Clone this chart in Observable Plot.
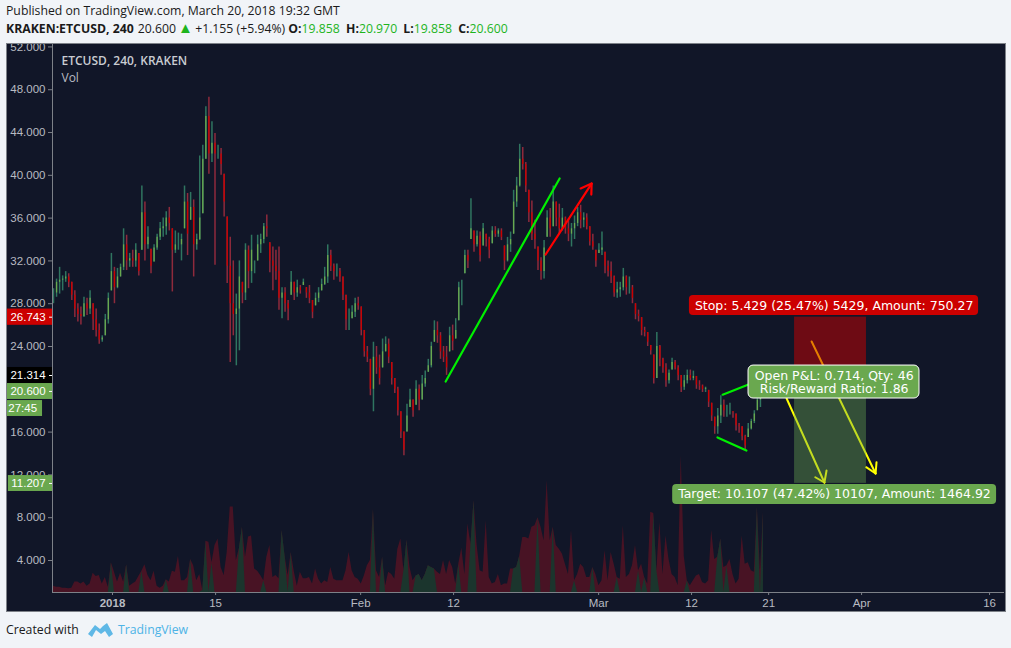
<!DOCTYPE html>
<html><head><meta charset="utf-8">
<script src="https://cdn.jsdelivr.net/npm/d3@7"></script>
<script src="https://cdn.jsdelivr.net/npm/@observablehq/plot@0.6"></script>
<style>
html,body{margin:0;padding:0;width:1011px;height:648px;overflow:hidden;background:#f1f4f8;font-family:"Open Sans","Noto Sans",sans-serif;color:#1a1a1a}
#h1{position:absolute;left:6px;top:1px;font-size:12.25px;line-height:20px;white-space:nowrap}
#h2{position:absolute;left:6px;top:19px;font-size:12.25px;line-height:20px;white-space:nowrap}
#h2 b{font-weight:700}.g{color:#1eb41e}
#h2 span.s{margin-left:4px}
#h2 span.t{font-size:15px;line-height:14px;margin:0 -1px}
#h2 b.m{margin-left:3px}
#chart{position:absolute;left:6px;top:43px;width:1000px;height:569px}
#chart svg{display:block;outline:1px solid #7d8188;outline-offset:-1px}
#foot{position:absolute;left:6px;top:620px;font-size:12.25px;line-height:20px;white-space:nowrap}
#foot svg{position:absolute;left:82px;top:1px}
#foot a{position:absolute;left:112px;top:0;color:#4db3e6;text-decoration:none}
</style></head><body>
<div id="h1">Published on TradingView.com, March 20, 2018 19:32 GMT</div>
<div id="h2"><b>KRAKEN:ETCUSD, 240</b><span class="s">20.600</span> <span class="g t">&#9650;</span> +1.155 (+5.94%) <b>O:</b><span class="g">19.858</span> <b class="m">H:</b><span class="g">20.970</span> <b class="m">L:</b><span class="g">19.858</span> <b class="m">C:</b><span class="g">20.600</span></div>
<div id="chart"></div>
<div id="foot">Created with
<svg width="26" height="18" viewBox="0 0 26 18"><path d="M0 13 L7 4 L12 8 L15 5 L19 2 L25 13 L21 16 L17 10 L13 13 L8 9 L4 16 Z" fill="#5fb8e6"/></svg>
<a>TradingView</a></div>
<script>
const high = [
29.4,30.3,31.4,30.6,31,30.8,30,29.2,28,27.7,28.6,28.5,29.2,28,27.5,26.1,25,27,29,32.7,
31.4,31.3,31.7,35,34.4,32.7,33,33.6,32.7,39,37.5,35.2,33.1,33.5,34.5,35.6,36,36.6,37,35,
34.8,34.6,34.5,39,38.3,38.4,37.7,34.5,41.8,42.8,46.4,47.3,45,43.9,42.8,42.5,40.1,36.1,34.2,32,
28.9,32,30,33.6,33.4,34.4,32,34.4,34.5,35.5,36.3,33.7,33.3,33,33.3,29.5,29.5,28.3,31,
30,30.2,29.7,30.3,29.5,29.7,28.3,29,29.5,30.3,31.4,33.5,33,31.7,31.7,31.3,30.5,
28.8,27.5,27.8,28.5,28.6,27.7,25.5,24,22.8,24.4,24,23.2,24.7,24.9,24.7,22.5,21,20.2,17.9,
16,18.6,20,19,20.8,20.4,21.3,21.7,22.8,24.4,26.4,26.3,25.3,24,24,25.8,26,26.6,30,
30.2,33,33,37.8,34.8,34.8,34.7,35.5,34.5,34.2,35.2,35.2,35,35,33.4,34.2,34.7,38.6,39.8,42.9,
42.6,41.2,38.6,37.6,35.8,33.3,32.3,33.9,36.7,36.9,39,37.5,37.3,36.9,36.1,35.9,35.5,36.2,37,37.2,
36.5,36.4,35.2,34.5,33,33.6,34.7,32.8,32,31.9,30.6,30,30,31.3,30.6,30.5,29.7,28,
27.4,26.7,25.8,25.3,24.1,23.2,25.3,24.1,22.9,22.4,21.8,22.9,22.7,22.2,21.3,21.3,21.8,21.8,21.7,21.2,
20.8,20.4,20.2,19.9,18.7,17.4,18.2,19.4,19,18.5,18.7,17.9,17.7,16.8,16.5,15.7,16.8,17.2,18,19.3,19.4,20.97];
const low = [
28,28.6,28.9,29.2,30,29.5,28.3,26.7,26.3,26,26.7,26.9,27,25.5,24.9,24.2,24.4,25,26.1,29.2,
28,29.4,30.5,31.1,31.1,31.4,31.4,31.4,30.6,33,32,33.1,30.8,31.9,33,33.9,34.2,34.4,34.8,29.1,
32.7,33,32,35,32.5,35.8,30.5,33,33.9,36.4,41.5,40.1,41.2,31.6,41.5,40,36.1,29.9,22.5,25,
22.2,23.6,28,28.3,29.4,29.9,30.8,32,32.7,33.6,34.2,30.9,29.2,30.2,27.4,26.6,27.2,26.4,28.8,
28.3,28.6,28.9,29.7,28.5,28,26.6,27.8,28.1,29.2,29.7,29.9,31,30.2,30.5,30,28.3,
25.5,25.5,26.6,26.7,27.4,25,23,22.5,19.4,17.9,21.4,20.4,22,23.5,22.4,20.4,19.6,17.5,15.4,
13.8,16,18.3,17.4,18.5,18,19,20.2,21.6,22,24.4,24.3,22.8,22.5,21.3,23.5,23.6,24.7,26.4,
27.8,30.8,31.3,34,32.8,33.3,31.9,33.4,33.3,32.2,33.6,34.2,34.2,33.9,31.1,31.9,32.8,34.5,37,38.9,
40.5,38.4,35.6,33.9,33.1,31.1,30.2,30.3,34.2,34.2,35.2,35.2,34.5,34.8,34.5,33.8,33.3,34,35.2,35,
35.1,34.9,33.4,33,31.4,32.7,32.5,30.8,30.5,29.9,28.6,28.5,28.6,29.2,28.8,28.9,28,26.5,
26.3,25,24.9,24,23.2,20.5,21,22.1,21.5,20.2,20.5,21.8,21.8,20.8,19.7,19.9,20.5,20.8,20.8,20,
19.9,19.7,19.7,18.3,17,15.8,15.8,16.8,17.4,17.4,17.6,17.3,16.1,15.9,15.2,14.3,15.5,16.2,16.8,18,18.3,19.858];
const close = [
29,30,30.2,30.3,30.5,30,28.8,27.5,27,26.8,28,27.5,28.5,26.5,25.5,24.6,24.8,26.5,28.5,31,
29.5,30.5,31.4,33.5,32,32.2,32,33,31,36.5,33.5,34.2,31.5,33.2,34.2,35,35.2,36,35.5,33,
33.5,33.5,34,37.5,34.5,37,33.5,34,36,41.5,45.5,42,43,42,42,41,37.5,31.5,28,27,
27.5,30.5,29,33,31,33,32,33.5,34,35.2,35,32,31.5,31,28.5,29,28,27.5,30,
29,29.5,29.2,30,29,28.5,27.2,28.5,29,29.8,30.5,32.5,31.5,31,31,30.5,28.8,
26.5,26.5,27.2,28,27.8,25.5,23.5,23,20,23,22,21,23.5,24.2,23,21,20,18,16,
14.3,17.5,19,18,20,19,20.5,21,22.2,24,25.5,25,23.5,23,22,25,24.5,25.5,29.5,
29.5,32.5,32,35,33.5,34.3,32.5,35,34,33,34.8,34.5,34.8,34.2,32,33.5,34,37.5,39,41.5,
41,39,36.5,34.5,34,32,31,33.2,36,35,37.5,36,35,36,35,34.5,35,35.5,36.5,35.8,
36,35.2,33.8,33.3,32,33,33.2,31.5,31,30.5,29,29.3,29.5,30.5,29.5,29.5,28.5,27,
26.8,25.5,25.3,24.4,23.6,21,24,22.8,22,20.8,21.5,22.5,22,21.3,20.2,20.8,21.3,21,21.2,20.4,
20.3,20,20.1,18.8,17.5,16.5,17.5,18.5,18,18,18,17.8,16.6,16.5,15.6,14.7,16.3,17,17.7,19,19.858,20.6];
const volume = [
1.6,1.5,1.5,1.4,1.4,1.35,1.4,2.0,2.0,1.8,2.0,1.6,1.8,2.8,2.5,2.6,1.8,2.4,1.5,3.8,2.9,2.0,2.8,2.0,3.6,1.6,1.8,2.0,2.5,3.0,3.6,2.6,2.1,3.0,1.6,1.4,1.6,2.2,2.0,3.0,2.9,4.4,2.1,2.1,2.4,4.1,3.5,2.1,2.7,1.2,5.8,5.7,3.8,5.4,6.0,3.35,2.6,4.75,9.0,9.0,4.0,5.1,7.1,4.3,6.2,6.3,3.2,3.0,2.6,2.1,4.3,5.4,2.4,2.6,2.3,6.8,4.4,2.6,4.75,3.0,1.6,2.9,2.3,2.3,2.4,1.8,
3.2,2.25,1.8,2.1,1.95,3.35,2.25,2.1,2.1,2.1,3.05,4.75,3.05,2.4,2.25,1.8,2.55,3.5,4,8.8,3.05,2.4,4.3,1.65,2.9,2.7,2.25,5.05,6,3.05,5.9,3.35,2.1,2.55,2.7,2.1,2.7,3.5,3.35,3.2,2.9,2.7,4,2.7,4,3.35,1.8,3.65,5.15,2.7,7.4,5.5,9.6,5.5,3.05,2.9,7.7,2.4,1.8,1.95,2.7,1.65,1.8,1.8,3.2,3.2,3.35,4.4,6.15,6.15,6,7.1,7.25,8,7.1,5.85,11.45,5.85,7.1,5.4,5.05,4.6,3.65,2.7,6.8,2.1,2.7,3.65,3.35,2.4,2.4,3.35,2.7,1.65,2.1,4.9,2.1,4.75,3.65,2.4,2.25,7.25,2.4,2.7,3.5,5.4,3.05,3.65,2.4,1.8,8.5,8.4,3.05,7.55,2.7,6.3,4.1,2.7,2.4,1.65,13.8,4.4,2.1,1.65,2.1,2.55,2.7,1.95,1.8,2.1,6.8,4.1,4.3,6,3.35,3.5,4.1,2.7,1.8,2.25,6.3,3.65,3.8,3.05,2.9,8.95,3.05,8.5];
const greenVolumeBars = [19,24,29,37,45,49,50,52,61,62,69,75,76,78,105,108,115,116,119,120,121,122,123,124,125,133,137,138,151,152,153,159,164,171,177,185,192,194,197,198,208,218,219,221,231,233];

const priceTicks = [52,48,44,40,36,32,28,24,16,12,8,4];
const dateTicks = [19.36,100.8,131.3,178.9,209.4,234.7,265.2,307.2,53.2];
const dateLabels = ["2018","Feb","12","Mar","12","21","Apr","16","15"];

const xDomain = [-0.33,312.1], yDomain = [1.009,52.32];
const boxStart = 243.2, boxEnd = 266.8, stopPrice = 26.743, entryPrice = 21.314, targetPrice = 11.207;

const trendSegments = [
  [128.7,20.73,166.1,39.7,"#00f000"],
  [219.6,19.5,228.1,20.45,"#00f000"],
  [217.9,15.5,227.4,14.28,"#00f000"],
  [161.5,32.6,176.6,39.23,"#ff0000"],
  [173.0,38.77,176.6,39.23,"#ff0000"],
  [176.5,38.2,176.6,39.23,"#ff0000"]];
const yellowSegments = [
  [240.6,19.14,253,11.29],[250,11.78,253,11.29],[253.7,12.41,253,11.29],
  [248.8,24.47,269.8,12.13],[266.7,12.72,269.8,12.13],[270.1,13.19,269.8,12.13]];

const labelBoxes = [
  [208.7,303.6,28.77,26.9,"#cc0000"],
  [203.2,309.5,11.1,9.23,"#6aa84f"],
  [228.1,284.2,22.22,19.14,"#6aa84f"]];
const labelTexts = [
  [256.2,27.83,"Stop: 5.429 (25.47%) 5429, Amount: 750.27"],
  [256.3,10.17,"Target: 10.107 (47.42%) 10107, Amount: 1464.92"],
  [256.2,21.2,"Open P&L: 0.714, Qty: 46"],
  [256.2,20.07,"Risk/Reward Ratio: 1.86"]];
const axisTagBoxes = [
  [-15.1,-0.33,27.5,25.98,"#cc0000"],
  [-15.1,-0.33,22.04,20.54,"#000000"],
  [-15.1,-0.33,20.54,19.05,"#6aa84f"],
  [-15.1,-3.6,18.95,17.46,"#6aa84f"],
  [-14.8,-0.33,11.94,10.45,"#6aa84f"]];
const axisTagTexts = [
  [-2.6,26.74,"26.743"],[-2.6,21.29,"21.314"],[-2.6,19.8,"20.600"],[-5.4,18.2,"27:45"],[-2.6,11.2,"11.207"]];
const axisTagTicks = [26.74,21.29,19.8,11.2];

const RED="#cc0000", GREEN="#6aa84f", WICKR="#8f2a3c", WICKG="#2f7560", VOLR="#481324", VOLG="#1b352d", BG="#111628", AXIS="#7d8188", TXT="#b8bbc2";
const FF='"Liberation Sans",Arial,sans-serif', FL='"DejaVu Sans",Verdana,sans-serif', FT='"Open Sans","Noto Sans",sans-serif';

const bars = high.map((h,i)=>{
  const prev = i ? close[i-1] : close[i];
  const open = Math.min(h,Math.max(low[i],prev));
  return {i,high:h,low:low[i],open,close:close[i],up:close[i]>=open};
});
const base = yDomain[0];
const vols = volume.map((v,i)=>({i,v,green:greenVolumeBars.includes(i)?v:base}));

const seg = a=>a.map(([x1,y1,x2,y2,c])=>({x1,y1,x2,y2,c}));
const box = a=>a.map(([x1,x2,y1,y2,c])=>({x1,x2,y1,y2,c}));

const svg = Plot.plot({
  width:1000,height:569,marginLeft:46,marginRight:2,marginTop:0,marginBottom:20,
  x:{domain:xDomain},y:{domain:yDomain},color:{type:"identity"},
  style:{background:BG,fontFamily:FF,color:TXT,overflow:"hidden"},
  marks:[
    Plot.areaY(vols,{x:"i",y1:base,y2:"v",fill:VOLR}),
    Plot.areaY(vols,{x:"i",y1:base,y2:"green",fill:VOLG}),
    Plot.ruleX(bars,{x:"i",y1:"low",y2:"high",strokeWidth:1.5,stroke:d=>d.up?WICKG:WICKR}),
    Plot.ruleX(bars,{x:"i",y1:"open",y2:"close",strokeWidth:1.3,stroke:d=>d.up?GREEN:RED}),
    Plot.link(seg(yellowSegments),{x1:"x1",y1:"y1",x2:"x2",y2:"y2",stroke:"#ffff00",strokeWidth:2,strokeLinecap:"round"}),
    Plot.rect([{x1:boxStart,x2:boxEnd,y1:entryPrice,y2:stopPrice}],{x1:"x1",x2:"x2",y1:"y1",y2:"y2",fill:"#cc0000",fillOpacity:.5}),
    Plot.rect([{x1:boxStart,x2:boxEnd,y1:targetPrice,y2:entryPrice}],{x1:"x1",x2:"x2",y1:"y1",y2:"y2",fill:"#6aa84f",fillOpacity:.4}),
    Plot.link(seg(trendSegments),{x1:"x1",y1:"y1",x2:"x2",y2:"y2",stroke:"c",strokeWidth:2.2,strokeLinecap:"round"}),
    Plot.ruleX(xDomain.slice(0,1),{stroke:AXIS}),
    Plot.ruleY(yDomain.slice(0,1),{stroke:AXIS}),
    Plot.axisY(priceTicks,{tickFormat:d3.format(".3f"),tickSize:4,tickPadding:3,color:TXT,stroke:AXIS,fontSize:11.5,label:null}),
    Plot.axisX(dateTicks.slice(1),{tickFormat:d=>dateLabels[dateTicks.indexOf(d)],tickSize:3,tickPadding:3,color:TXT,stroke:AXIS,fontSize:11.5,label:null}),
    Plot.axisX(dateTicks.slice(0,1),{tickFormat:d=>dateLabels[dateTicks.indexOf(d)],tickSize:3,tickPadding:3,color:TXT,stroke:AXIS,fontSize:11.5,fontWeight:"bold",label:null}),
    Plot.text(["ETCUSD, 240, KRAKEN"],{frameAnchor:"top-left",dx:9,dy:13,text:d=>d,lineAnchor:"top",fill:"#c9ccd2",fontFamily:FT,fontSize:12,fontWeight:600}),
    Plot.text(["Vol"],{frameAnchor:"top-left",dx:9,dy:30,text:d=>d,lineAnchor:"top",fill:"#b8bbc2",fontFamily:FT,fontSize:12}),
    Plot.rect(box(labelBoxes).slice(0,2),{x1:"x1",x2:"x2",y1:"y1",y2:"y2",fill:"c",rx:4}),
    Plot.rect(box(labelBoxes).slice(2),{x1:"x1",x2:"x2",y1:"y1",y2:"y2",fill:"c",stroke:"#ffffff",rx:5}),
    Plot.text(labelTexts,{x:d=>d[0],y:d=>d[1],text:d=>d[2],fill:"#ffffff",fontFamily:FL,fontSize:12.5,lineAnchor:"middle"}),
    Plot.rect(box(axisTagBoxes),{x1:"x1",x2:"x2",y1:"y1",y2:"y2",fill:"c"}),
    Plot.text(axisTagTexts,{x:d=>d[0],y:d=>d[1],text:d=>d[2],fill:"#ffffff",fontFamily:FF,fontSize:11.5,textAnchor:"end",lineAnchor:"middle"}),
    Plot.ruleY(axisTagTicks,{x1:-1.3,x2:-0.33,stroke:"#ffffff"})
  ]
});
document.getElementById("chart").append(svg);
</script>
</body></html>
